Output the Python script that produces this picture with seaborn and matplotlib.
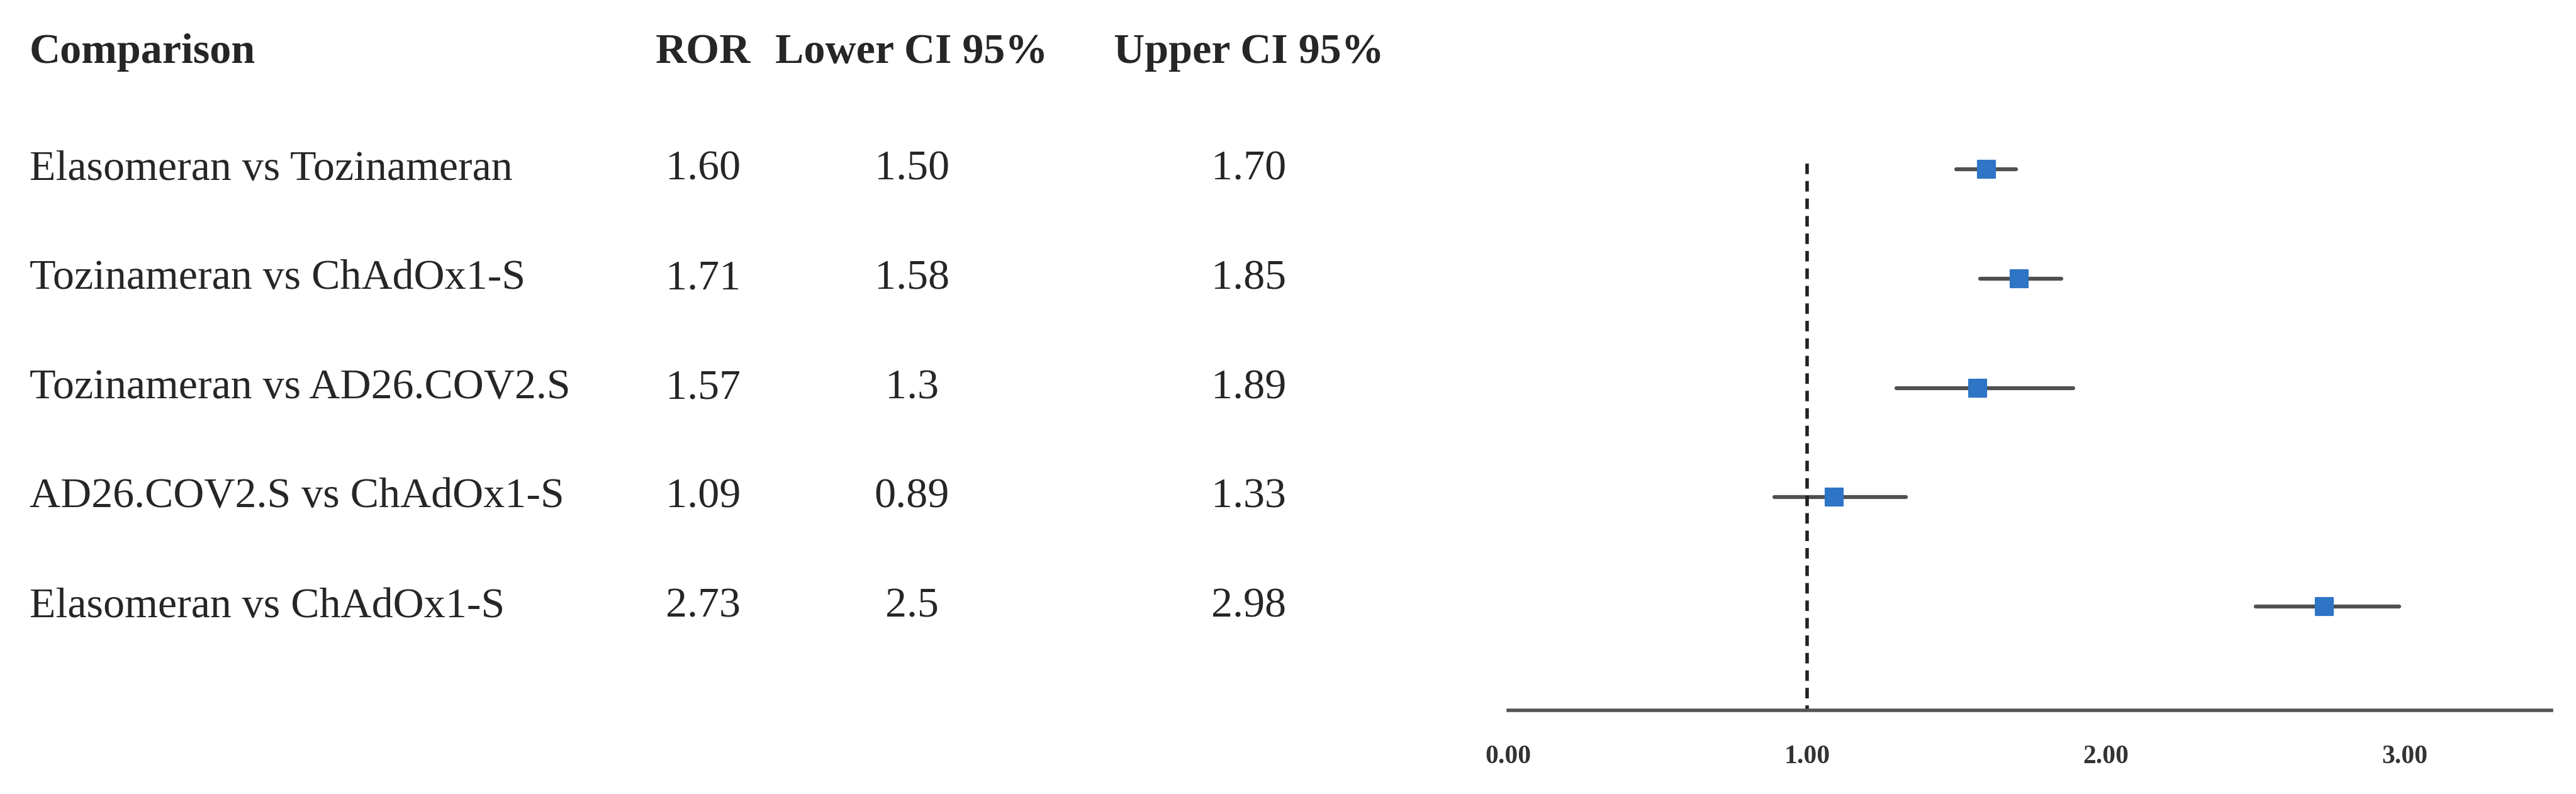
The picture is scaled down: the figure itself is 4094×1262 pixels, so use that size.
import matplotlib
matplotlib.use("Agg")
import matplotlib.pyplot as plt
import matplotlib.transforms as mtransforms
import seaborn as sns
import pandas as pd

comparisons = ["Elasomeran vs Tozinameran", "Tozinameran vs ChAdOx1-S", "Tozinameran vs AD26.COV2.S",
               "AD26.COV2.S vs ChAdOx1-S", "Elasomeran vs ChAdOx1-S"]
ror = [1.60, 1.71, 1.57, 1.09, 2.73]
lower = [1.50, 1.58, 1.30, 0.89, 2.50]
upper = [1.70, 1.85, 1.89, 1.33, 2.98]
ror_txt = ["1.60", "1.71", "1.57", "1.09", "2.73"]
lower_txt = ["1.50", "1.58", "1.3", "0.89", "2.5"]
upper_txt = ["1.70", "1.85", "1.89", "1.33", "2.98"]
headers = ["Comparison", "ROR", "Lower CI 95%", "Upper CI 95%"]
xticks = [0.0, 1.0, 2.0, 3.0]

sns.set_style("white")
plt.rcParams['font.family'] = ['Liberation Serif', 'DejaVu Serif']

df = pd.DataFrame({"comp": comparisons, "ror": ror, "lo": lower, "hi": upper, "row": range(5)})

fig = plt.figure(figsize=(40.94, 12.62), dpi=100)
W = 1568.0; H = 483.0
ax = fig.add_axes([918 / W, 1 - 432 / H, (1553 - 918) / W, 432 / H])
ax.set_xlim(0, 3.49)
y0 = 103; dy = 66.5
ybot = (432 - y0) / dy
ax.set_ylim(ybot, (0 - y0) / dy)

for _, r in df.iterrows():
    ax.plot([r.lo, r.hi], [r.row, r.row], color="#505050", lw=4.5, zorder=1)
sns.scatterplot(data=df, x="ror", y="row", marker="s", s=380, color="#2E75C6",
                edgecolor="#2E75C6", ax=ax, zorder=3, legend=False)
ax.vlines(1.0, -0.05, ybot, color="#222222", linestyles=(0, (3, 2)), lw=4)

for s in ["top", "right", "left"]:
    ax.spines[s].set_visible(False)
ax.spines["bottom"].set_color("#555555")
ax.spines["bottom"].set_linewidth(4)
ax.set_xticks(xticks)
ax.set_xticklabels([f"{t:.2f}" for t in xticks], fontsize=30, fontweight="bold", color="#333333")
ax.tick_params(axis="x", length=0, pad=40)
ax.set_yticks([])
ax.set_xlabel(""); ax.set_ylabel("")

tr = mtransforms.blended_transform_factory(fig.transFigure, ax.transData)
hy = (32 - y0) / dy
fs = 49
fig.text(18 / W, hy, headers[0], transform=tr, fontsize=fs, fontweight="bold", va="center", ha="left")
for x, h in zip([428, 555, 760], headers[1:]):
    fig.text(x / W, hy, h, transform=tr, fontsize=fs, fontweight="bold", va="center", ha="center")
for i in range(5):
    fig.text(18 / W, i, comparisons[i], transform=tr, fontsize=fs, va="center", ha="left")
    fig.text(428 / W, i, ror_txt[i], transform=tr, fontsize=fs, va="center", ha="center")
    fig.text(555 / W, i, lower_txt[i], transform=tr, fontsize=fs, va="center", ha="center")
    fig.text(760 / W, i, upper_txt[i], transform=tr, fontsize=fs, va="center", ha="center")

fig.savefig("out.png", dpi=100, facecolor="white")
